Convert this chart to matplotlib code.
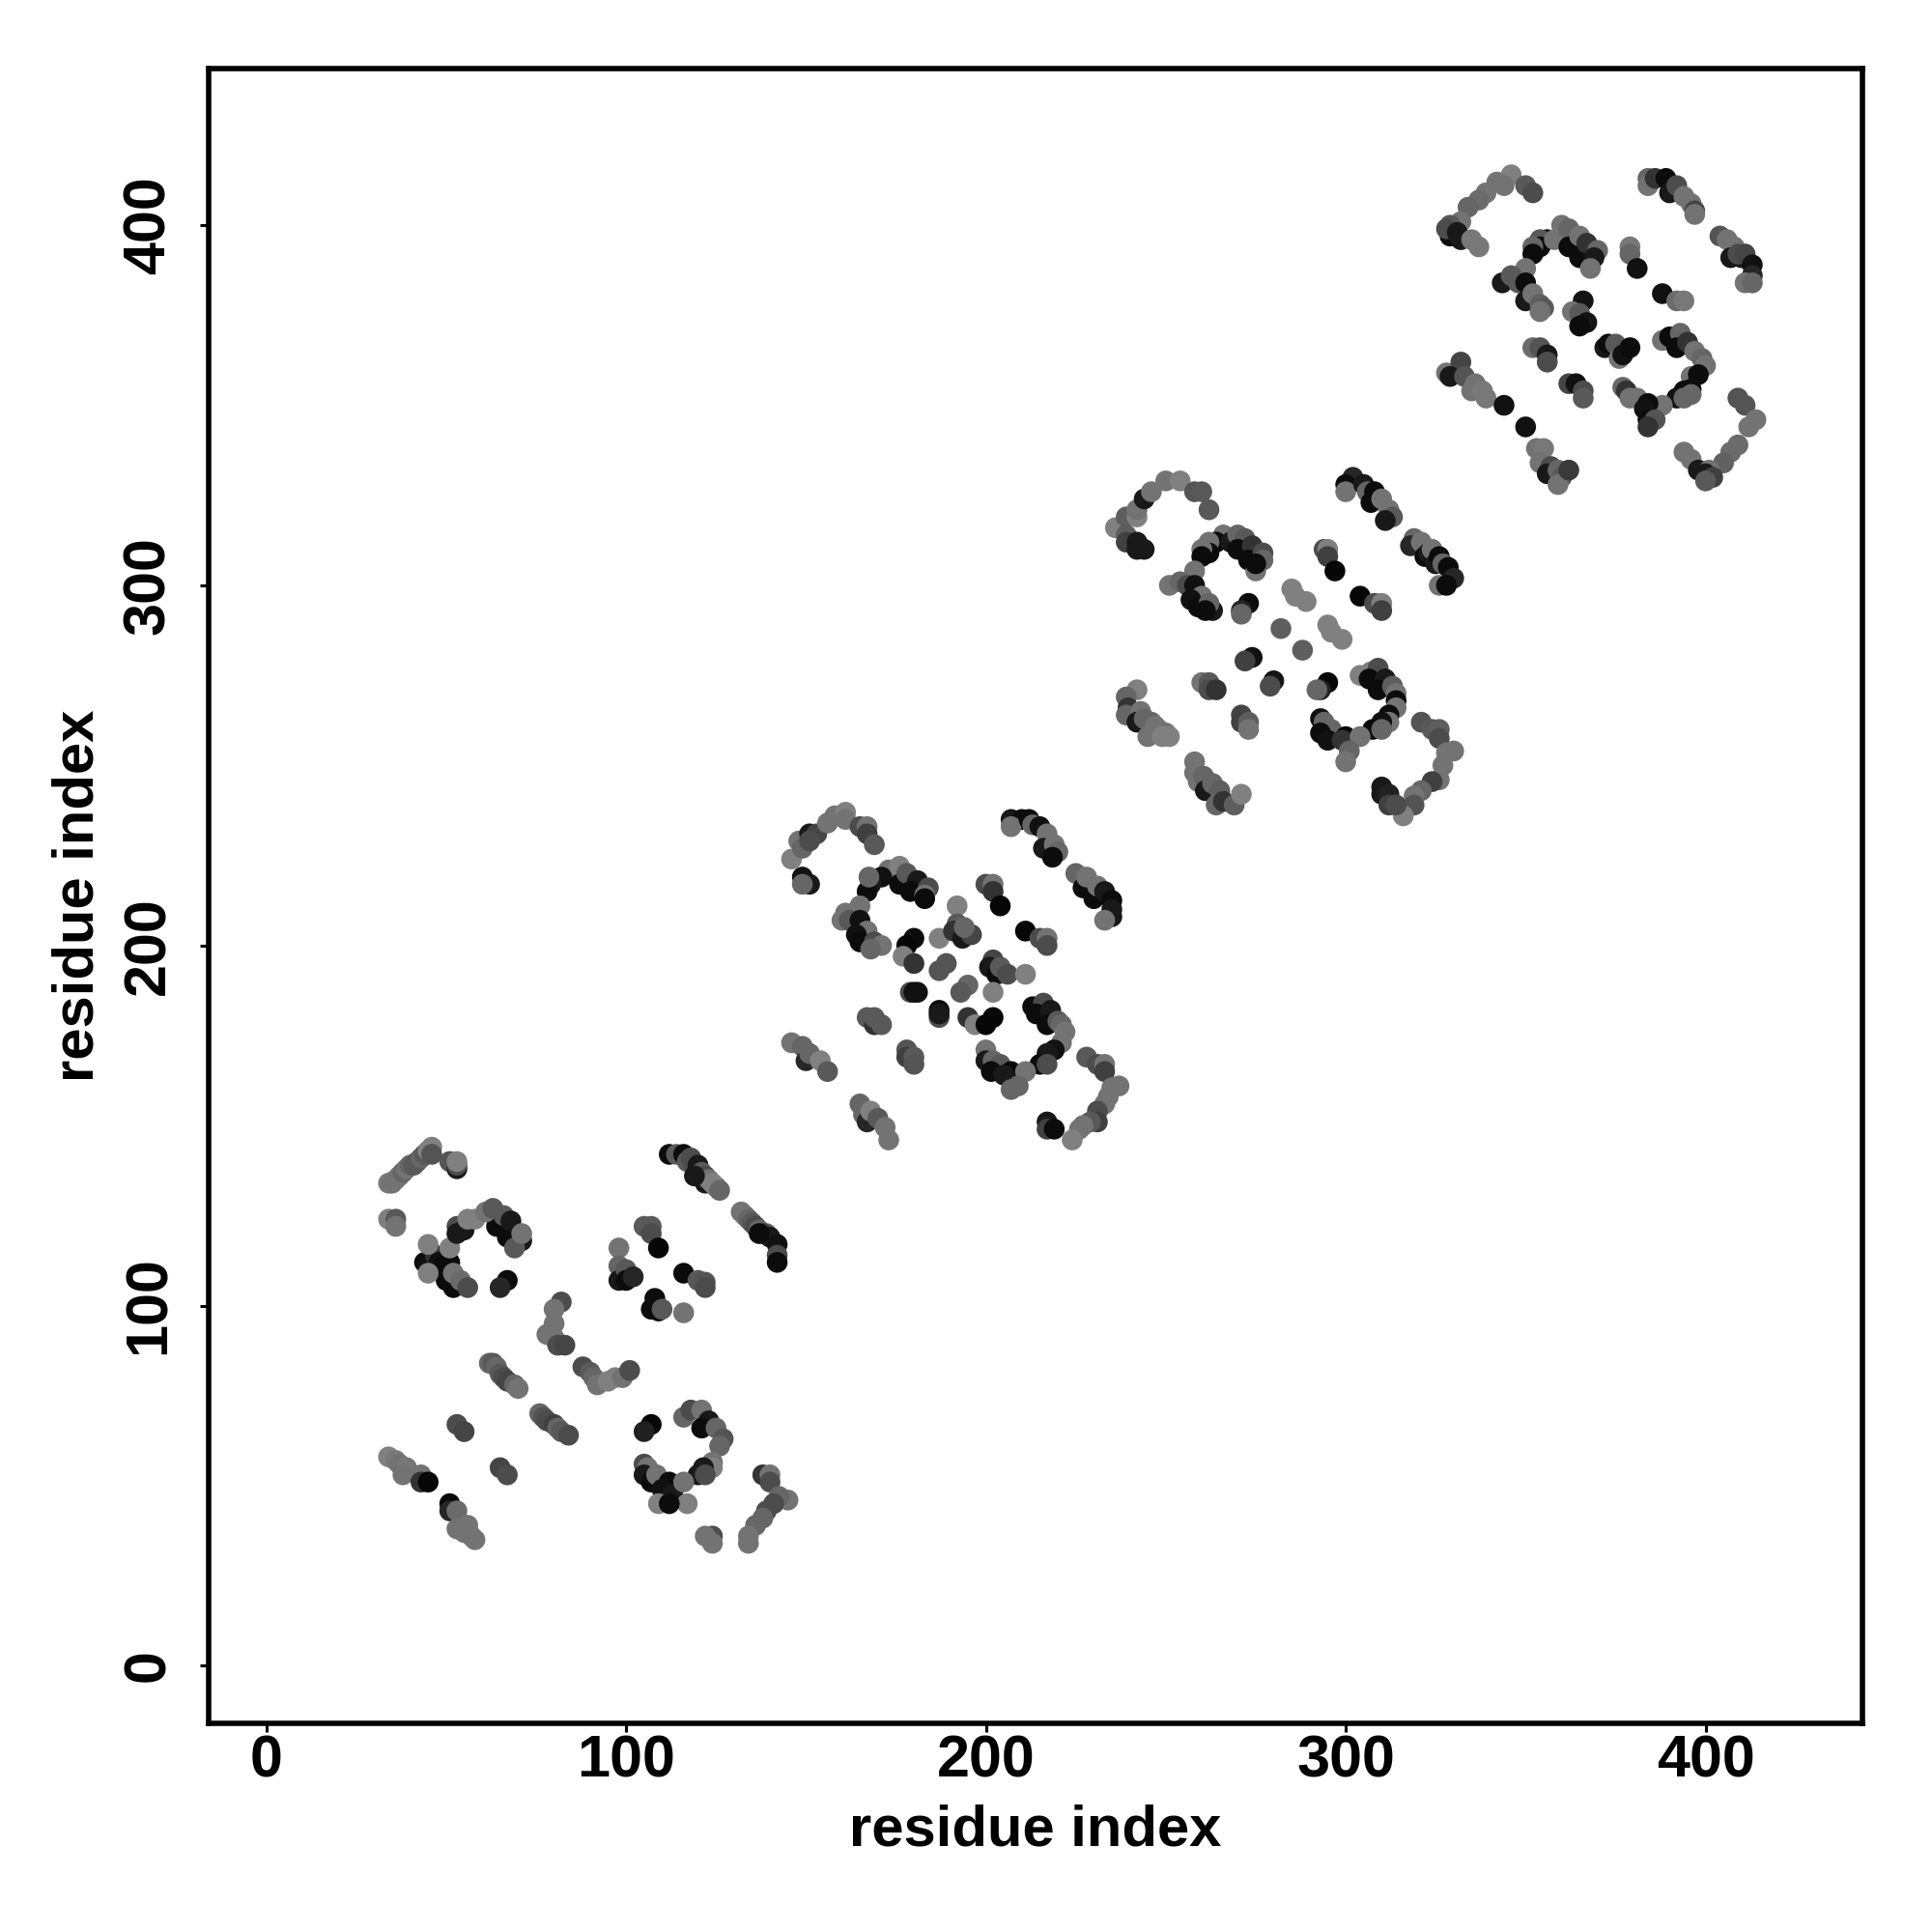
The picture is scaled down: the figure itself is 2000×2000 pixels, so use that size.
import numpy as np
import matplotlib
matplotlib.use('Agg')
import matplotlib.pyplot as plt

# residue i, residue j, grey level
domain1 = [
 (34,134,.47),(35,134,.45),(36,135,.45),(37,136,.45),(38,137,.4),(39,138,.45),(40,139,.4),(41,139,.35),(42,140,.35),
 (43,141,.4),(44,142,.35),(45,143,.5),(46,144,.5),(46,142,.33),(51,140,.33),(53,138,.1),(53,139,.3),(53,140,.5),
 (34,124,.5),(36,124,.35),(36,122,.45),
 (44,112,.05),(45,111,.07),(47,114,.2),(48,112,.07),(49,111,.05),(51,112,.05),(50,107,.05),(52,105,.05),
 (45,117,.5),(51,116,.5),(45,109,.5),(52,109,.45),(54,107,.42),(56,105,.3),
 (53,122,.3),(55,121,.1),(53,120,.1),(56,124,.5),(58,124,.5),
 (64,122,.05),(67,119,.05),(71,118,.1),(61,126,.45),(63,127,.35),(66,125,.35),(68,123.5,.1),(69,116,.35),(71,120,.45),
 (67,107,.05),(65,105,.15),
 (112,142,.05),(114,142,.35),(116,142,.05),(117,140,.35),(118,141,.3),(119,139,.3),(120,139,.1),(121,137,.35),(122,134,.1),(122,136,.3),(123,135,.45),(125,133,.4),(124,134,.5),(126,132,.4),(119,136,.1),
 (132,126,.45),(133,125,.45),(134,124,.4),(135,123,.35),(136,122,.3),(137,121,.4),(139,120,.4),(138,120,.25),(140,119,.1),(142,117,.07),(142,114,.3),(142,112,.05),(137,120,.05),
 (105,122,.35),(107,122,.35),(107,120,.3),(109,116,.03),
 (98,116,.45),(98,111,.4),(98,107,.1),(100,110,.35),(100,107,.05),(102,108,.15),
 (116,109,.05),(120,107,.35),(122,106.5,.33),(122,105,.3),
 (108,102,.05),(107,99,.05),(109,98.5,.05),(110,99,.35),(116,98,.45),
 (82,101,.3),(80,99,.45),(80,95,.45),(78,92,.45),(80,91,.45),(81,89,.3),(83,89,.27),
 (88,83,.3),(90,81.5,.35),(91,80,.4),(92,78,.45),(95,79,.5),(97,80,.5),(99,80,.45),(101,82,.3),
 (62,84,.4),(63,84,.35),(64,83,.4),(65,81,.35),(66,80,.3),(67,79,.27),(69,78,.4),(70,77,.45),
 (76,70,.4),(77,69,.33),(78,68,.3),(80,67,.25),(81,66,.4),(82,65,.35),(84,64,.3),
 (53,67,.3),(55,65,.27),
 (34,58,.5),(36,57,.47),(37,56,.45),(38,55,.45),(39,55,.47),(38,53,.45),(43,53,.45),(43,51,.2),(45,51,.03),
 (65,55,.27),(67,53,.3),
 (51,45,.03),(51,43,.15),(53,43,.42),(53,38,.45),(55,37,.45),(56,39,.45),(57,36,.45),(58,35,.45),
 (107,67,.03),(105,65,.13),
 (116,69,.4),(118,71,.3),(121,71,.45),(123,68,.1),(121,66,.05),(125,66,.4),(127,63,.33),(126,61,.4),
 (124,56.5,.45),(124,55,.5),(121.5,55,.1),(120,53,.1),(122,53,.3),
 (105,56,.3),(106,55,.45),(105,53,.1),(107,51,.05),(108.5,53,.45),(112,51,.05),(110,49,.07),(113,47.5,.1),(116,51,.45),
 (109,45,.5),(117,45,.5),(112,45,.05),
 (138,53,.2),(140,53,.45),(140,51,.3),(145,46,.45),(142.5,47,.4),(141,45,.3),(139,43,.3),(138,41,.4),(136,39,.4),(134,36,.45),(134,34,.45),
 (124,36,.3),(122,36,.45),(124,34,.45),
]

domain2 = [
 (146,224,.5),(148,229,.45),(149,227,.4),(151,231,.1),(153,231,.27),(151,229,.3),(156,234,.45),(158,236,.45),(161,237,.5),(161,235,.45),
 (165,233,.3),(167,233,.45),(167,231,.25),(169,228,.35),
 (149,219,.07),(151,217,.1),(149,217,.4),
 (173,221,.45),(176,222,.5),(171,219,.07),(168,217,.1),(167,215,.05),(167.5,219,.4),
 (176,217,.05),(178,220,.35),(180,217,.33),(181,218,.1),(179,215,.05),(184,216,.3),(183,214,.45),(183,213,.05),
 (165,211,.45),(161,209,.45),(160,207,.45),(162,207,.35),(165,207,.07),(167,204,.45),(164,203,.07),(165,201,.05),(169,201,.3),(171,200,.45),(168,199,.4),
 (180,202,.05),(178,200,.03),(177,197,.5),(180,195,.2),(187,202,.5),(192,211,.5),(192,206,.35),(191,204,.2),(193.5,202,.1),(196,203,.27),(194,205,.4),
 (200,217,.3),(202,217,.45),(202,215,.2),(204,211,.03),
 (211,204,.03),(215,202,.3),(217,202,.45),(217,200,.3),
 (187,193,.33),(189,195,.33),
 (202,196,.27),(201,194,.1),(203,192,.05),(204,194,.35),(206,192,.3),(211,192,.5),
 (195,189,.4),(193,187,.35),(202,187,.5),
 (179,187,.3),(180,187,.07),(181,187,.07),
 (187,180,.3),(187,182,.05),(187,181,.1),
 (195,180,.2),(197,178,.5),(202,180,.03),(200,178,.03),
 (167,180,.35),(169,178,.2),(169,180,.35),(171,178,.35),
 (178,171,.33),(178,169,.25),(180,169,.35),(180,167,.33),
 (213,183,.05),(216,184,.3),(214,181,.05),(218,182,.1),(217,178,.05),(220,179,.35),(221,178,.4),(222,176,.45),(221,173,.45),(219,171,.07),(217,170,.1),(215,167,.05),(217,167,.3),
 (200,171,.45),(200,168,.1),(202,168,.4),(204,167,.35),(201.5,165,.05),(207,165,.03),(205,164,.1),(211,165,.45),(209,161,.4),(207,160,.4),
 (228,169,.35),(231,167,.3),(233,167,.45),(233,165,.25),
 (237,161,.45),(235,160.5,.45),(234,158,.45),(233,156,.45),(231,154,.3),(231,151,.25),(229,151,.35),(227,150,.45),(226,149,.45),(224,146,.5),
 (217,151,.1),(217,149,.25),(219,149,.05),
 (207,235,.1),(210,235,.05),(207,233,.45),(212,235,.05),(213,233.5,.4),(215,233,.07),(217,231,.45),(216,227,.1),(219,228,.45),(220,226,.4),(218.5,224.5,.05),
 (225,220,.4),(227,216,.05),(228,219,.45),(230,213,.05),(231,216.5,.45),(233,215,.1),(235,212.5,.05),(235,210,.1),(235,208,.1),(233,207,.45),
 (146,173,.45),(149,172,.4),(150,168,.15),(151,170,.4),(154,168,.5),(156,165,.35),
 (165,156,.4),(166,153,.4),(167,151,.15),(168,154,.5),(170,152,.35),(172,149.5,.45),(173,146,.45),
]

domain3 = [
 (236,316,.5),(239,319,.37),(242,319,.5),(242,321,.45),(244,324,.1),(246,326,.45),(250,329,.45),(254,329,.5),(258,326,.33),(260,326,.35),(262,321,.35),
 (239,314,.37),(239,312,.25),(242,312,.1),(242,310,.1),(244,310,.1),
 (266,314,.45),(264,312,.05),(262,312,.45),(262,309,.05),(260,310,.45),(260,308,.05),(268,312,.1),(270,314,.4),(272,313,.35),(270,310,.05),
 (274,311,.2),(273,307,.05),(277,309,.3),(277,307,.4),(275,304,.45),(275,306,.05),
 (258,304,.45),(251,300,.45),(254,301,.4),(256,300,.3),(258,300,.07),(260,297,.45),(257,296,.07),(259,294,.05),(263,293,.1),(262,295,.4),(261,293,.05),
 (273,295,.05),(271,293,.15),(271,292,.4),
 (285,299,.5),(286,297,.5),(289,295.5,.5),(282,288,.37),(295,289,.5),(296,287,.5),(299,285,.5),(288,282,.37),
 (274,280,.07),(272,279,.25),(280,273.5,.08),(279,272,.3),(295,273,.03),(293,271,.13),(292,271,.4),
 (260,273,.45),(262,273,.35),(262,271,.3),(264,271,.2),
 (271,264,.27),(271,262,.25),(273,262,.37),(273,260,.45),
 (294,310,.3),(295,310,.5),(295,308,.25),(297,304,.03),
 (304,297,.03),(308,295,.3),(310,295,.5),(310,293,.25),
 (302,330,.15),(300,328,.05),(300,326,.45),(305,328,.1),(306,326,.4),(308,326,.05),(307,323,.05),(310,324,.45),(312,321,.45),(313,319,.35),(311,318,.1),
 (319,313,.4),(318,311,.15),(321,312,.45),(322,308,.05),(323,309,.1),(324,310,.45),(325,306,.1),(326,308,.05),(327,306,.4),(328.5,305,.05),(330,302,.15),(326,300,.45),(328,300,.05),
 (242,271,.5),(239,269,.4),(239.5,266,.2),(239,264,.4),(243,265,.45),(242,262,.1),(244,263,.4),(246,262,.4),(247,261,.45),(245,258,.45),(248,260,.45),(250,259,.45),(249,258,.5),(251,258,.5),
 (258,251,.45),(258,248,.45),(259,245.5,.45),(260.5,247,.4),(261,243,.1),(263,245,.4),(265,243,.37),(264,239,.4),(266,240,.2),(269,239,.37),(271,242,.5),
 (304,275,.5),(307,276,.5),(309,277,.3),(306.5,274,.05),(311,274,.1),(309,271,.05),(313,272,.37),(314,270,.45),(314,268,.05),(314,266,.45),(312,264,.05),(312,262,.45),(310,262,.07),(307.5,260,.05),(310,260,.4),
 (293,263,.07),(294,262,.4),(296,260,.4),(293,259,.05),(295,257,.07),(300,258,.03),(299,257,.2),(304,258,.45),(301,254,.4),(300,251,.45),
 (321,262,.33),(324,260,.35),(326,260,.37),(326,257.5,.3),
 (330,254,.45),(328,253.5,.45),(327,250,.45),(326,246,.45),(324,245.5,.25),(321,243,.4),(319,241.5,.45),(319,239,.33),(316,236,.5),
 (310,244,.1),(310,242,.1),(312,242,.13),(312,239,.25),(314,239,.3),
]

domain4 = [
 (346,414,.5),(344,411,.45),(342,412,.45),(339,409,.45),(337,407,.42),(334,405,.4),(350,411,.35),(352,409,.3),
 (329,397,.05),(332,401,.45),(329,400,.35),(328,399,.3),(331,398,.1),(332,396,.1),(335,396,.47),(337,394,.47),
 (356,396,.05),(354,396,.35),(354,394,.05),(352,394,.4),(352,392,.05),(358,396,.45),(360,400,.45),(362,399,.4),(362,394,.05),(365,397,.45),(365,391,.05),(367,395,.2),(370,393,.4),(369,391,.1),(368,388,.45),
 (350,388,.45),(343.5,384,.1),(346,386,.35),(348,384,.35),(350,384,.05),(350,379,.1),(352,381,.45),(354,378,.37),(355,377,.35),(354,376,.45),
 (379,394,.47),(379,392,.4),(381,388,.07),(388,381,.07),(392,379,.42),(394,379,.47),
 (366,379,.08),(363,376,.45),(365,375.5,.35),(367,373,.08),(365,372,.05),
 (372,366,.1),(373,367,.05),(375,367,.35),(376,363,.45),(377,364,.07),(379,366,.05),
 (352,366,.42),(354,366,.33),(356,364,.1),(356,362,.3),
 (362,356,.27),(364,356,.07),(366,354,.3),(366,352,.35),
 (388,368,.45),(390,369,.05),(393,370,.4),(392,366,.05),(395,367.5,.2),(397,365,.45),(399,363,.4),(400,361,.45),(396,358,.45),(398,358.5,.05),
 (396,354.5,.05),(394,354,.05),(396,353,.4),(392,352,.07),(394,352,.4),(388,350,.45),
 (377,355,.4),(378,354,.2),(379,352,.45),(381,352,.45),(384,350.5,.05),(383,349,.07),(384,346,.05),(386,346,.33),(384,344,.2),
 (384,413,.4),(384,411,.45),(386,413,.2),(389,413,.05),(390,409,.1),(392,411,.3),(394,408,.45),(396,406,.45),(397,404,.27),(397,403,.45),
 (404,397,.33),(406,396,.45),(408,394,.45),(407,391,.1),(410,391,.1),(409,392,.3),(411,392,.27),(413,389,.07),(413,386,.15),(411,384,.45),(413,384,.4),
 (328,359,.45),(332,362,.27),(329,358,.1),(333,358,.33),(336,356,.45),(335,354,.45),(338,354,.47),(339,352,.47),(344,350,.07),(350,344,.07),
 (353,338,.45),(355,338,.47),(354,334,.45),(357,333,.3),(356,331,.1),(359,332,.4),(360,330,.35),(359,328,.45),(362,332,.23),
 (409,352,.33),(411,350,.33),
 (414,346,.45),(412,344,.45),(409,339,.42),(407,337,.42),(405,334,.38),(394,337,.45),(396,335,.45),(398,332,.1),(401,332,.45),(400,331,.1),(402,330,.25),(400,329,.35),
]

xticks = [0, 100, 200, 300, 400]
yticks = [0, 100, 200, 300, 400]

plt.rcParams['font.family'] = ['Liberation Sans', 'DejaVu Sans']
plt.rcParams['font.weight'] = 'bold'

fig = plt.figure(figsize=(10, 10), dpi=200)
ax = fig.add_axes([0.108, 0.108, 0.8558, 0.8565])

for pts in [domain1, domain2, domain3, domain4]:
    d = np.array(pts)
    ax.scatter(d[:, 0], d[:, 1], c=d[:, 2], cmap='gray', vmin=0, vmax=1, s=60, linewidths=0)

ax.set_xlim(-16, 443.5)
ax.set_ylim(-16, 443.5)
ax.set_xticks(xticks)
ax.set_yticks(yticks)
ax.tick_params(length=3.2, width=1.1, labelsize=22)
ax.tick_params(axis='x', pad=1)
ax.tick_params(axis='y', pad=8.5)
for t in ax.get_yticklabels():
    t.set_rotation(90)
    t.set_va('center')
for s in ax.spines.values():
    s.set_linewidth(2.0)

ax.set_xlabel('residue index', fontsize=21.5, fontweight='bold')
ax.set_ylabel('residue index', fontsize=21.5, fontweight='bold')
ax.xaxis.set_label_coords(0.5, -0.049)
ax.yaxis.set_label_coords(-0.0627, 0.5)

fig.savefig('out.png', dpi=200, facecolor='white')
